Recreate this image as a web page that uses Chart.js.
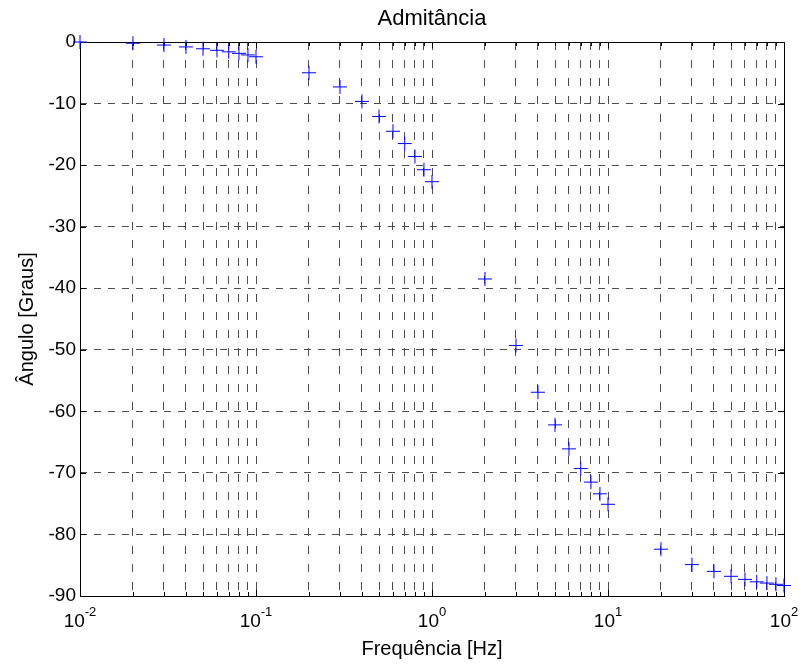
<!DOCTYPE html>
<html>
<head>
<meta charset="utf-8">
<title>Admitância</title>
<script src="https://cdn.jsdelivr.net/npm/chart.js@4.4.1/dist/chart.umd.min.js"></script>
<style>
  html, body { margin: 0; padding: 0; background: #fff; }
  #wrap { width: 804px; height: 668px; }
</style>
</head>
<body>
<div id="wrap"><canvas id="chart" width="804" height="668"></canvas></div>
<script>
// --- DATA ---
const freqHz = [
  0.01, 0.02, 0.03, 0.04, 0.05, 0.06, 0.07, 0.08, 0.09,
  0.1, 0.2, 0.3, 0.4, 0.5, 0.6, 0.7, 0.8, 0.9,
  1, 2, 3, 4, 5, 6, 7, 8, 9,
  10, 20, 30, 40, 50, 60, 70, 80, 90,
  100
];
const anguloGraus = [
  0, -0.2, -0.5, -0.8, -1.1, -1.35, -1.6, -1.85, -2.1,
  -2.4, -5.0, -7.3, -9.65, -12.1, -14.5, -16.5, -18.6, -20.75,
  -22.7, -38.5, -49.3, -56.9, -62.2, -66.1, -69.3, -71.5, -73.4,
  -75.1, -82.4, -84.9, -86.0, -86.8, -87.3, -87.7, -87.9, -88.1,
  -88.3
];

// grid / tick positions
const xGridTicks = [
  0.01, 0.02, 0.03, 0.04, 0.05, 0.06, 0.07, 0.08, 0.09,
  0.1, 0.2, 0.3, 0.4, 0.5, 0.6, 0.7, 0.8, 0.9,
  1, 2, 3, 4, 5, 6, 7, 8, 9,
  10, 20, 30, 40, 50, 60, 70, 80, 90,
  100
];
const xMajorTicks = [0.01, 0.1, 1, 10, 100];
const xMajorExp = ['-2', '-1', '0', '1', '2'];
const yTicks = [0, -10, -20, -30, -40, -50, -60, -70, -80, -90];

const chartTitle = 'Admitância';
const xLabel = 'Frequência [Hz]';
const yLabel = 'Ângulo [Graus]';

const FONT = "'Liberation Sans', Arial, sans-serif";

// MATLAB-like box, inward ticks, title and 10^n labels
const matlabAxes = {
  id: 'matlabAxes',
  beforeDatasetsDraw(chart) {
    const { ctx, chartArea: a, scales: { x, y } } = chart;
    ctx.save();
    ctx.setLineDash([]);
    ctx.strokeStyle = '#000';
    ctx.lineWidth = 1;
    ctx.strokeRect(a.left + 0.5, a.top + 0.5, a.right - a.left, a.bottom - a.top);

    ctx.beginPath();
    xGridTicks.forEach(v => {
      const px = Math.round(x.getPixelForValue(v)) + 0.5;
      const len = xMajorTicks.includes(v) ? 6 : 4;
      ctx.moveTo(px, a.bottom); ctx.lineTo(px, a.bottom - len);
      ctx.moveTo(px, a.top); ctx.lineTo(px, a.top + len);
    });
    yTicks.forEach(v => {
      const py = Math.round(y.getPixelForValue(v)) + 0.5;
      ctx.moveTo(a.left, py); ctx.lineTo(a.left + 6, py);
      ctx.moveTo(a.right, py); ctx.lineTo(a.right - 6, py);
    });
    ctx.stroke();
    ctx.restore();
  },
  afterDraw(chart) {
    const { ctx, chartArea: a, scales: { x } } = chart;
    ctx.save();
    ctx.fillStyle = '#000';

    // title
    ctx.font = '22px ' + FONT;
    ctx.textAlign = 'center';
    ctx.textBaseline = 'alphabetic';
    ctx.fillText(chartTitle, (a.left + a.right) / 2, 25);

    // x tick labels as 10 with superscript exponent
    ctx.textAlign = 'left';
    xMajorTicks.forEach((v, i) => {
      const px = x.getPixelForValue(v);
      ctx.font = '19px ' + FONT;
      const wBase = ctx.measureText('10').width;
      ctx.font = '13px ' + FONT;
      const wExp = ctx.measureText(xMajorExp[i]).width;
      const start = px - (wBase + wExp) / 2;
      ctx.font = '19px ' + FONT;
      ctx.fillText('10', start, 627);
      ctx.font = '13px ' + FONT;
      ctx.fillText(xMajorExp[i], start + wBase, 616);
    });
    ctx.restore();
  }
};

const ctx = document.getElementById('chart').getContext('2d');
new Chart(ctx, {
  type: 'scatter',
  data: {
    datasets: [{
      data: freqHz.map((f, i) => ({ x: f, y: anguloGraus[i] })),
      pointStyle: 'cross',
      pointRadius: 7,
      pointHoverRadius: 7,
      borderColor: '#0000ff',
      backgroundColor: '#0000ff',
      borderWidth: 1,
      showLine: false,
      clip: false
    }]
  },
  options: {
    responsive: false,
    animation: false,
    events: [],
    layout: { padding: { top: 42, right: 20, left: 0, bottom: 0 } },
    plugins: {
      legend: { display: false },
      tooltip: { enabled: false },
      title: { display: false }
    },
    scales: {
      x: {
        type: 'logarithmic',
        min: 0.01,
        max: 100,
        afterBuildTicks: s => { s.ticks = xGridTicks.map(v => ({ value: v })); },
        afterFit: s => { s.height = 72; },
        ticks: { display: false },
        grid: { color: '#4d4d4d', lineWidth: 1, drawTicks: false },
        border: { display: false, dash: [8, 10] },
        title: {
          display: true,
          text: xLabel,
          color: '#000',
          font: { family: FONT, size: 20 },
          padding: { top: 0, bottom: 7 }
        }
      },
      y: {
        min: -90,
        max: 0,
        afterBuildTicks: s => { s.ticks = yTicks.map(v => ({ value: v })); },
        afterFit: s => { s.width = 80; },
        ticks: {
          color: '#000',
          padding: 4,
          font: { family: FONT, size: 19 },
          callback: v => String(v)
        },
        grid: { color: '#4d4d4d', lineWidth: 1, drawTicks: false },
        border: { display: false, dash: [7, 7] },
        title: {
          display: true,
          text: yLabel,
          color: '#000',
          font: { family: FONT, size: 20 },
          padding: { top: 15, bottom: 0 }
        }
      }
    }
  },
  plugins: [matlabAxes]
});
</script>
</body>
</html>
